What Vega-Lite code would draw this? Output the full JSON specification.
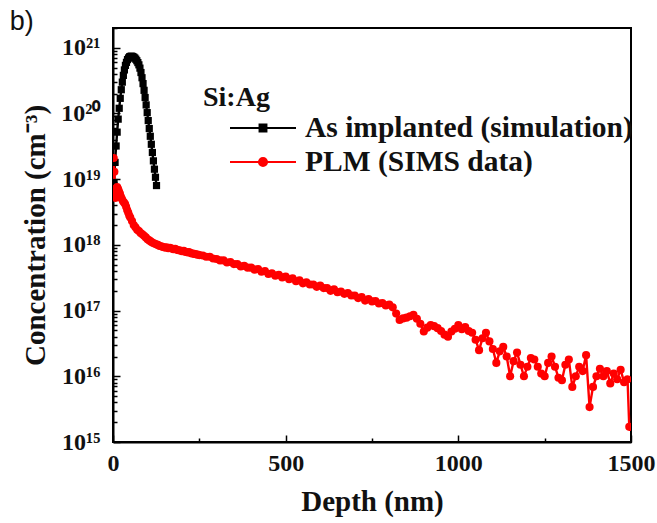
{
  "$schema": "https://vega.github.io/schema/vega-lite/v6.json",
  "autosize": {"type": "none"},
  "width": 518,
  "height": 414,
  "padding": {"left": 113, "top": 28, "right": 26, "bottom": 81},
  "title": {"text": "b)", "anchor": "start", "frame": "bounds", "dx": -12, "offset": -20, "fontSize": 27, "font": "Liberation Sans", "fontWeight": "normal", "color": "#111"},
  "data": {"values": [
    {"series": "As implanted (simulation)", "depth": 3, "conc": 8.9e18},
    {"series": "As implanted (simulation)", "depth": 6, "conc": 1.8e19},
    {"series": "As implanted (simulation)", "depth": 9, "conc": 3.2e19},
    {"series": "As implanted (simulation)", "depth": 12, "conc": 5.2e19},
    {"series": "As implanted (simulation)", "depth": 15, "conc": 8.2e19},
    {"series": "As implanted (simulation)", "depth": 18, "conc": 1.2e20},
    {"series": "As implanted (simulation)", "depth": 21, "conc": 1.7e20},
    {"series": "As implanted (simulation)", "depth": 24, "conc": 2.3e20},
    {"series": "As implanted (simulation)", "depth": 27, "conc": 3.0e20},
    {"series": "As implanted (simulation)", "depth": 30, "conc": 3.8e20},
    {"series": "As implanted (simulation)", "depth": 33, "conc": 4.6e20},
    {"series": "As implanted (simulation)", "depth": 36, "conc": 5.4e20},
    {"series": "As implanted (simulation)", "depth": 39, "conc": 6.0e20},
    {"series": "As implanted (simulation)", "depth": 42, "conc": 6.6e20},
    {"series": "As implanted (simulation)", "depth": 45, "conc": 7.0e20},
    {"series": "As implanted (simulation)", "depth": 48, "conc": 7.3e20},
    {"series": "As implanted (simulation)", "depth": 51, "conc": 7.4e20},
    {"series": "As implanted (simulation)", "depth": 54, "conc": 7.45e20},
    {"series": "As implanted (simulation)", "depth": 57, "conc": 7.35e20},
    {"series": "As implanted (simulation)", "depth": 60, "conc": 7.2e20},
    {"series": "As implanted (simulation)", "depth": 63, "conc": 7.0e20},
    {"series": "As implanted (simulation)", "depth": 66, "conc": 6.7e20},
    {"series": "As implanted (simulation)", "depth": 69, "conc": 6.35e20},
    {"series": "As implanted (simulation)", "depth": 72, "conc": 5.95e20},
    {"series": "As implanted (simulation)", "depth": 75, "conc": 5.5e20},
    {"series": "As implanted (simulation)", "depth": 78, "conc": 4.9e20},
    {"series": "As implanted (simulation)", "depth": 81, "conc": 4.2e20},
    {"series": "As implanted (simulation)", "depth": 84, "conc": 3.5e20},
    {"series": "As implanted (simulation)", "depth": 87, "conc": 2.85e20},
    {"series": "As implanted (simulation)", "depth": 90, "conc": 2.25e20},
    {"series": "As implanted (simulation)", "depth": 93, "conc": 1.75e20},
    {"series": "As implanted (simulation)", "depth": 96, "conc": 1.35e20},
    {"series": "As implanted (simulation)", "depth": 99, "conc": 1.03e20},
    {"series": "As implanted (simulation)", "depth": 102, "conc": 7.8e19},
    {"series": "As implanted (simulation)", "depth": 105, "conc": 5.9e19},
    {"series": "As implanted (simulation)", "depth": 108, "conc": 4.5e19},
    {"series": "As implanted (simulation)", "depth": 111, "conc": 3.4e19},
    {"series": "As implanted (simulation)", "depth": 114, "conc": 2.55e19},
    {"series": "As implanted (simulation)", "depth": 117, "conc": 1.9e19},
    {"series": "As implanted (simulation)", "depth": 120, "conc": 1.42e19},
    {"series": "As implanted (simulation)", "depth": 123, "conc": 1.07e19},
    {"series": "As implanted (simulation)", "depth": 126, "conc": 8.0e18},
    {"series": "PLM (SIMS data)", "depth": 0, "conc": 5.6e18},
    {"series": "PLM (SIMS data)", "depth": 2, "conc": 2.1e19},
    {"series": "PLM (SIMS data)", "depth": 4, "conc": 1.3e19},
    {"series": "PLM (SIMS data)", "depth": 6, "conc": 7.1e18},
    {"series": "PLM (SIMS data)", "depth": 8, "conc": 5.2e18},
    {"series": "PLM (SIMS data)", "depth": 10, "conc": 6.0e18},
    {"series": "PLM (SIMS data)", "depth": 12, "conc": 7.6e18},
    {"series": "PLM (SIMS data)", "depth": 14, "conc": 7.2e18},
    {"series": "PLM (SIMS data)", "depth": 16, "conc": 6.8e18},
    {"series": "PLM (SIMS data)", "depth": 18, "conc": 6.3e18},
    {"series": "PLM (SIMS data)", "depth": 20, "conc": 6.0e18},
    {"series": "PLM (SIMS data)", "depth": 23, "conc": 5.4e18},
    {"series": "PLM (SIMS data)", "depth": 26, "conc": 5.0e18},
    {"series": "PLM (SIMS data)", "depth": 29, "conc": 4.6e18},
    {"series": "PLM (SIMS data)", "depth": 32, "conc": 4.4e18},
    {"series": "PLM (SIMS data)", "depth": 35, "conc": 4.2e18},
    {"series": "PLM (SIMS data)", "depth": 38, "conc": 3.8e18},
    {"series": "PLM (SIMS data)", "depth": 41, "conc": 3.4e18},
    {"series": "PLM (SIMS data)", "depth": 44, "conc": 3.1e18},
    {"series": "PLM (SIMS data)", "depth": 47, "conc": 2.8e18},
    {"series": "PLM (SIMS data)", "depth": 50, "conc": 2.6e18},
    {"series": "PLM (SIMS data)", "depth": 55, "conc": 2.3e18},
    {"series": "PLM (SIMS data)", "depth": 60, "conc": 2.0e18},
    {"series": "PLM (SIMS data)", "depth": 65, "conc": 1.85e18},
    {"series": "PLM (SIMS data)", "depth": 70, "conc": 1.7e18},
    {"series": "PLM (SIMS data)", "depth": 75, "conc": 1.62e18},
    {"series": "PLM (SIMS data)", "depth": 80, "conc": 1.52e18},
    {"series": "PLM (SIMS data)", "depth": 85, "conc": 1.45e18},
    {"series": "PLM (SIMS data)", "depth": 90, "conc": 1.38e18},
    {"series": "PLM (SIMS data)", "depth": 95, "conc": 1.3e18},
    {"series": "PLM (SIMS data)", "depth": 100, "conc": 1.22e18},
    {"series": "PLM (SIMS data)", "depth": 105, "conc": 1.17e18},
    {"series": "PLM (SIMS data)", "depth": 110, "conc": 1.12e18},
    {"series": "PLM (SIMS data)", "depth": 115, "conc": 1.08e18},
    {"series": "PLM (SIMS data)", "depth": 120, "conc": 1.05e18},
    {"series": "PLM (SIMS data)", "depth": 125, "conc": 1.02e18},
    {"series": "PLM (SIMS data)", "depth": 130, "conc": 1.0e18},
    {"series": "PLM (SIMS data)", "depth": 135, "conc": 9.6e17},
    {"series": "PLM (SIMS data)", "depth": 140, "conc": 9.5e17},
    {"series": "PLM (SIMS data)", "depth": 145, "conc": 9.3e17},
    {"series": "PLM (SIMS data)", "depth": 150, "conc": 9.1e17},
    {"series": "PLM (SIMS data)", "depth": 155, "conc": 9.2e17},
    {"series": "PLM (SIMS data)", "depth": 160, "conc": 8.9e17},
    {"series": "PLM (SIMS data)", "depth": 165, "conc": 9.0e17},
    {"series": "PLM (SIMS data)", "depth": 170, "conc": 8.8e17},
    {"series": "PLM (SIMS data)", "depth": 175, "conc": 8.6e17},
    {"series": "PLM (SIMS data)", "depth": 180, "conc": 8.7e17},
    {"series": "PLM (SIMS data)", "depth": 185, "conc": 8.4e17},
    {"series": "PLM (SIMS data)", "depth": 190, "conc": 8.3e17},
    {"series": "PLM (SIMS data)", "depth": 195, "conc": 8.2e17},
    {"series": "PLM (SIMS data)", "depth": 200, "conc": 8.0e17},
    {"series": "PLM (SIMS data)", "depth": 205, "conc": 8.1e17},
    {"series": "PLM (SIMS data)", "depth": 210, "conc": 7.8e17},
    {"series": "PLM (SIMS data)", "depth": 215, "conc": 7.7e17},
    {"series": "PLM (SIMS data)", "depth": 220, "conc": 7.8e17},
    {"series": "PLM (SIMS data)", "depth": 225, "conc": 7.5e17},
    {"series": "PLM (SIMS data)", "depth": 230, "conc": 7.4e17},
    {"series": "PLM (SIMS data)", "depth": 235, "conc": 7.3e17},
    {"series": "PLM (SIMS data)", "depth": 240, "conc": 7.2e17},
    {"series": "PLM (SIMS data)", "depth": 245, "conc": 7.1e17},
    {"series": "PLM (SIMS data)", "depth": 250, "conc": 7.0e17},
    {"series": "PLM (SIMS data)", "depth": 260, "conc": 6.9e17},
    {"series": "PLM (SIMS data)", "depth": 270, "conc": 6.6e17},
    {"series": "PLM (SIMS data)", "depth": 280, "conc": 6.6e17},
    {"series": "PLM (SIMS data)", "depth": 290, "conc": 6.2e17},
    {"series": "PLM (SIMS data)", "depth": 300, "conc": 6.1e17},
    {"series": "PLM (SIMS data)", "depth": 310, "conc": 5.8e17},
    {"series": "PLM (SIMS data)", "depth": 320, "conc": 5.8e17},
    {"series": "PLM (SIMS data)", "depth": 330, "conc": 5.4e17},
    {"series": "PLM (SIMS data)", "depth": 340, "conc": 5.5e17},
    {"series": "PLM (SIMS data)", "depth": 350, "conc": 5.1e17},
    {"series": "PLM (SIMS data)", "depth": 360, "conc": 5.1e17},
    {"series": "PLM (SIMS data)", "depth": 370, "conc": 4.7e17},
    {"series": "PLM (SIMS data)", "depth": 380, "conc": 4.8e17},
    {"series": "PLM (SIMS data)", "depth": 390, "conc": 4.5e17},
    {"series": "PLM (SIMS data)", "depth": 400, "conc": 4.5e17},
    {"series": "PLM (SIMS data)", "depth": 410, "conc": 4.2e17},
    {"series": "PLM (SIMS data)", "depth": 420, "conc": 4.3e17},
    {"series": "PLM (SIMS data)", "depth": 430, "conc": 3.9e17},
    {"series": "PLM (SIMS data)", "depth": 440, "conc": 4.0e17},
    {"series": "PLM (SIMS data)", "depth": 450, "conc": 3.6e17},
    {"series": "PLM (SIMS data)", "depth": 460, "conc": 3.7e17},
    {"series": "PLM (SIMS data)", "depth": 470, "conc": 3.4e17},
    {"series": "PLM (SIMS data)", "depth": 480, "conc": 3.5e17},
    {"series": "PLM (SIMS data)", "depth": 490, "conc": 3.2e17},
    {"series": "PLM (SIMS data)", "depth": 500, "conc": 3.3e17},
    {"series": "PLM (SIMS data)", "depth": 510, "conc": 3.0e17},
    {"series": "PLM (SIMS data)", "depth": 520, "conc": 3.1e17},
    {"series": "PLM (SIMS data)", "depth": 530, "conc": 2.8e17},
    {"series": "PLM (SIMS data)", "depth": 540, "conc": 2.9e17},
    {"series": "PLM (SIMS data)", "depth": 550, "conc": 2.6e17},
    {"series": "PLM (SIMS data)", "depth": 560, "conc": 2.7e17},
    {"series": "PLM (SIMS data)", "depth": 570, "conc": 2.5e17},
    {"series": "PLM (SIMS data)", "depth": 580, "conc": 2.5e17},
    {"series": "PLM (SIMS data)", "depth": 590, "conc": 2.3e17},
    {"series": "PLM (SIMS data)", "depth": 600, "conc": 2.4e17},
    {"series": "PLM (SIMS data)", "depth": 610, "conc": 2.2e17},
    {"series": "PLM (SIMS data)", "depth": 620, "conc": 2.2e17},
    {"series": "PLM (SIMS data)", "depth": 630, "conc": 2.0e17},
    {"series": "PLM (SIMS data)", "depth": 640, "conc": 2.1e17},
    {"series": "PLM (SIMS data)", "depth": 650, "conc": 1.9e17},
    {"series": "PLM (SIMS data)", "depth": 660, "conc": 1.95e17},
    {"series": "PLM (SIMS data)", "depth": 670, "conc": 1.8e17},
    {"series": "PLM (SIMS data)", "depth": 680, "conc": 1.85e17},
    {"series": "PLM (SIMS data)", "depth": 690, "conc": 1.7e17},
    {"series": "PLM (SIMS data)", "depth": 700, "conc": 1.7e17},
    {"series": "PLM (SIMS data)", "depth": 710, "conc": 1.55e17},
    {"series": "PLM (SIMS data)", "depth": 720, "conc": 1.6e17},
    {"series": "PLM (SIMS data)", "depth": 730, "conc": 1.42e17},
    {"series": "PLM (SIMS data)", "depth": 740, "conc": 1.5e17},
    {"series": "PLM (SIMS data)", "depth": 750, "conc": 1.38e17},
    {"series": "PLM (SIMS data)", "depth": 760, "conc": 1.4e17},
    {"series": "PLM (SIMS data)", "depth": 770, "conc": 1.28e17},
    {"series": "PLM (SIMS data)", "depth": 780, "conc": 1.3e17},
    {"series": "PLM (SIMS data)", "depth": 790, "conc": 1.2e17},
    {"series": "PLM (SIMS data)", "depth": 800, "conc": 1.24e17},
    {"series": "PLM (SIMS data)", "depth": 810, "conc": 1.12e17},
    {"series": "PLM (SIMS data)", "depth": 820, "conc": 9.0e16},
    {"series": "PLM (SIMS data)", "depth": 830, "conc": 7.2e16},
    {"series": "PLM (SIMS data)", "depth": 840, "conc": 7.6e16},
    {"series": "PLM (SIMS data)", "depth": 850, "conc": 7.8e16},
    {"series": "PLM (SIMS data)", "depth": 860, "conc": 8.2e16},
    {"series": "PLM (SIMS data)", "depth": 870, "conc": 8.6e16},
    {"series": "PLM (SIMS data)", "depth": 880, "conc": 7.5e16},
    {"series": "PLM (SIMS data)", "depth": 890, "conc": 6.3e16},
    {"series": "PLM (SIMS data)", "depth": 900, "conc": 4.8e16},
    {"series": "PLM (SIMS data)", "depth": 910, "conc": 5.5e16},
    {"series": "PLM (SIMS data)", "depth": 920, "conc": 6.0e16},
    {"series": "PLM (SIMS data)", "depth": 930, "conc": 5.8e16},
    {"series": "PLM (SIMS data)", "depth": 940, "conc": 5.4e16},
    {"series": "PLM (SIMS data)", "depth": 950, "conc": 4.9e16},
    {"series": "PLM (SIMS data)", "depth": 960, "conc": 4.3e16},
    {"series": "PLM (SIMS data)", "depth": 970, "conc": 4.0e16},
    {"series": "PLM (SIMS data)", "depth": 980, "conc": 4.8e16},
    {"series": "PLM (SIMS data)", "depth": 990, "conc": 5.3e16},
    {"series": "PLM (SIMS data)", "depth": 1000, "conc": 6.0e16},
    {"series": "PLM (SIMS data)", "depth": 1010, "conc": 5.2e16},
    {"series": "PLM (SIMS data)", "depth": 1020, "conc": 5.6e16},
    {"series": "PLM (SIMS data)", "depth": 1030, "conc": 4.9e16},
    {"series": "PLM (SIMS data)", "depth": 1040, "conc": 4.6e16},
    {"series": "PLM (SIMS data)", "depth": 1050, "conc": 3.6e16},
    {"series": "PLM (SIMS data)", "depth": 1060, "conc": 2.5e16},
    {"series": "PLM (SIMS data)", "depth": 1070, "conc": 3.8e16},
    {"series": "PLM (SIMS data)", "depth": 1080, "conc": 4.6e16},
    {"series": "PLM (SIMS data)", "depth": 1090, "conc": 3.4e16},
    {"series": "PLM (SIMS data)", "depth": 1100, "conc": 2.6e16},
    {"series": "PLM (SIMS data)", "depth": 1110, "conc": 1.6e16},
    {"series": "PLM (SIMS data)", "depth": 1120, "conc": 2.4e16},
    {"series": "PLM (SIMS data)", "depth": 1130, "conc": 2.8e16},
    {"series": "PLM (SIMS data)", "depth": 1140, "conc": 2.0e16},
    {"series": "PLM (SIMS data)", "depth": 1150, "conc": 1.0e16},
    {"series": "PLM (SIMS data)", "depth": 1160, "conc": 1.7e16},
    {"series": "PLM (SIMS data)", "depth": 1170, "conc": 2.3e16},
    {"series": "PLM (SIMS data)", "depth": 1180, "conc": 1.5e16},
    {"series": "PLM (SIMS data)", "depth": 1190, "conc": 1.0e16},
    {"series": "PLM (SIMS data)", "depth": 1200, "conc": 1.4e16},
    {"series": "PLM (SIMS data)", "depth": 1210, "conc": 1.9e16},
    {"series": "PLM (SIMS data)", "depth": 1220, "conc": 1.8e16},
    {"series": "PLM (SIMS data)", "depth": 1230, "conc": 1.4e16},
    {"series": "PLM (SIMS data)", "depth": 1240, "conc": 1.1e16},
    {"series": "PLM (SIMS data)", "depth": 1250, "conc": 1.0e16},
    {"series": "PLM (SIMS data)", "depth": 1260, "conc": 1.6e16},
    {"series": "PLM (SIMS data)", "depth": 1270, "conc": 2.0e16},
    {"series": "PLM (SIMS data)", "depth": 1280, "conc": 1.4e16},
    {"series": "PLM (SIMS data)", "depth": 1290, "conc": 9.5e15},
    {"series": "PLM (SIMS data)", "depth": 1300, "conc": 8.7e15},
    {"series": "PLM (SIMS data)", "depth": 1310, "conc": 1.5e16},
    {"series": "PLM (SIMS data)", "depth": 1320, "conc": 1.8e16},
    {"series": "PLM (SIMS data)", "depth": 1330, "conc": 6.9e15},
    {"series": "PLM (SIMS data)", "depth": 1340, "conc": 1.0e16},
    {"series": "PLM (SIMS data)", "depth": 1350, "conc": 1.4e16},
    {"series": "PLM (SIMS data)", "depth": 1360, "conc": 1.2e16},
    {"series": "PLM (SIMS data)", "depth": 1370, "conc": 2.1e16},
    {"series": "PLM (SIMS data)", "depth": 1380, "conc": 3.4e15},
    {"series": "PLM (SIMS data)", "depth": 1390, "conc": 6.9e15},
    {"series": "PLM (SIMS data)", "depth": 1400, "conc": 1.0e16},
    {"series": "PLM (SIMS data)", "depth": 1410, "conc": 1.3e16},
    {"series": "PLM (SIMS data)", "depth": 1420, "conc": 1.0e16},
    {"series": "PLM (SIMS data)", "depth": 1430, "conc": 1.2e16},
    {"series": "PLM (SIMS data)", "depth": 1440, "conc": 7.8e15},
    {"series": "PLM (SIMS data)", "depth": 1450, "conc": 1.1e16},
    {"series": "PLM (SIMS data)", "depth": 1460, "conc": 9.0e15},
    {"series": "PLM (SIMS data)", "depth": 1470, "conc": 1.26e16},
    {"series": "PLM (SIMS data)", "depth": 1480, "conc": 8.1e15},
    {"series": "PLM (SIMS data)", "depth": 1490, "conc": 9.0e15},
    {"series": "PLM (SIMS data)", "depth": 1495, "conc": 1.7e15}
  ]},
  "encoding": {
    "x": {"field": "depth", "type": "quantitative",
      "scale": {"domain": [0, 1500], "nice": false},
      "axis": {"title": "Depth (nm)", "values": [0, 250, 500, 750, 1000, 1250, 1500], "format": "d",
        "labelExpr": "datum.value % 500 === 0 ? datum.label : ''",
        "tickSize": {"condition": {"test": "datum.value % 500 === 0", "value": -7}, "value": -4},
        "labelPadding": 16, "titlePadding": 12, "labelFlush": false}},
    "y": {"field": "conc", "type": "quantitative",
      "scale": {"type": "log", "domain": [1e15, 2e21], "nice": false},
      "axis": {"title": "Concentration (cm⁻³)",
        "values": [1e15,2e15,3e15,4e15,5e15,6e15,7e15,8e15,9e15,1e16,2e16,3e16,4e16,5e16,6e16,7e16,8e16,9e16,1e17,2e17,3e17,4e17,5e17,6e17,7e17,8e17,9e17,1e18,2e18,3e18,4e18,5e18,6e18,7e18,8e18,9e18,1e19,2e19,3e19,4e19,5e19,6e19,7e19,8e19,9e19,1e20,2e20,3e20,4e20,5e20,6e20,7e20,8e20,9e20,1e21,2e21],
        "labelExpr": "datum.value == 1e15 ? '10¹⁵' : datum.value == 1e16 ? '10¹⁶' : datum.value == 1e17 ? '10¹⁷' : datum.value == 1e18 ? '10¹⁸' : datum.value == 1e19 ? '10¹⁹' : datum.value == 1e20 ? '10²⁰' : datum.value == 1e21 ? '10²¹' : ''",
        "tickSize": {"condition": {"test": "indexof([1e15,1e16,1e17,1e18,1e19,1e20,1e21], datum.value) >= 0", "value": -7}, "value": -4},
        "labelPadding": 20, "titlePadding": 10, "labelFlush": false, "labelOverlap": false}},
    "color": {"field": "series", "type": "nominal",
      "scale": {"domain": ["As implanted (simulation)", "PLM (SIMS data)"], "range": ["#000000", "#ff0000"]},
      "legend": {"title": "Si:Ag", "orient": "none", "legendX": 90, "legendY": 56,
        "symbolOffset": 44, "symbolSize": 900, "symbolStrokeWidth": 2, "labelLimit": 0,
        "encode": {"symbols": {"update": {
          "shape": {"signal": "datum.value === 'As implanted (simulation)' ? 'M-2.2,0H2.2M-0.23,-0.23H0.23V0.23H-0.23Z' : 'M-2.2,0H2.2M-0.27,0A0.27,0.27 0 1,1 0.27,0A0.27,0.27 0 1,1 -0.27,0Z'"},
          "fill": {"scale": "color", "field": "value"},
          "stroke": {"scale": "color", "field": "value"},
          "strokeWidth": {"value": 2},
          "opacity": {"value": 1}}}}}}
  },
  "layer": [
    {"mark": {"type": "line", "strokeWidth": 2.4, "clip": true}},
    {"transform": [{"filter": "datum.series === 'As implanted (simulation)'"}],
      "mark": {"type": "point", "filled": true, "size": 52, "opacity": 1, "clip": true, "shape": "square"}},
    {"transform": [{"filter": "datum.series === 'PLM (SIMS data)'"}],
      "mark": {"type": "point", "filled": true, "size": 66, "opacity": 1, "clip": true, "shape": "circle"}}
  ],
  "config": {
    "font": "Liberation Serif",
    "view": {"stroke": "#000000", "strokeWidth": 2},
    "axis": {"grid": false, "domainColor": "#000000", "domainWidth": 2, "tickColor": "#000000", "tickWidth": 1.5,
      "labelFont": "Liberation Serif", "labelFontWeight": "bold", "labelFontSize": 24, "labelColor": "#111111",
      "titleFont": "Liberation Serif", "titleFontWeight": "bold", "titleFontSize": 29, "titleColor": "#111111"},
    "legend": {"titleFont": "Liberation Serif", "titleFontWeight": "bold", "titleFontSize": 28, "titleColor": "#111111",
      "labelFont": "Liberation Serif", "labelFontWeight": "bold", "labelFontSize": 29.5, "labelColor": "#111111",
      "rowPadding": 3, "titlePadding": 0, "labelOffset": 26}
  }
}
